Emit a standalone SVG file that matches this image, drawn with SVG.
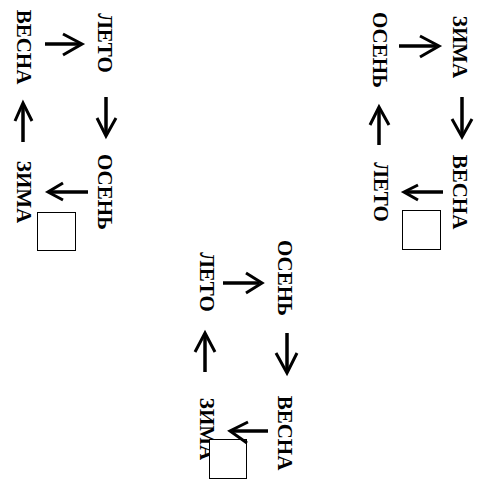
<svg xmlns="http://www.w3.org/2000/svg" width="480" height="497" viewBox="0 0 480 497">
<style>
text{font-family:"Liberation Serif","Times New Roman",serif;font-weight:bold;font-size:21px;fill:#000;text-anchor:middle}
.shaft{stroke:#000;stroke-width:3.5;fill:none}
.head{stroke:#000;stroke-width:3;fill:none;stroke-linejoin:miter}
.box{fill:#fff;stroke:#000;stroke-width:1;shape-rendering:crispEdges}
</style>
<rect width="480" height="497" fill="#fff"/>
<g id="cycle-right">
  <g id="r-zima"><text transform="translate(453,47) rotate(90)">ЗИМА</text></g>
  <g id="r-vesna"><text transform="translate(453,192) rotate(90)">ВЕСНА</text></g>
  <g id="r-leto"><text transform="translate(374,192) rotate(90)">ЛЕТО</text></g>
  <g id="r-osen"><text transform="translate(373,50) rotate(90)">ОСЕНЬ</text></g>
  <g id="r-box"><rect class="box" x="402.5" y="210.5" width="38" height="39"/></g>
</g>
<g id="cycle-left">
  <g id="l-leto"><text transform="translate(98,43) rotate(90)">ЛЕТО</text></g>
  <g id="l-osen"><text transform="translate(98,192) rotate(90)">ОСЕНЬ</text></g>
  <g id="l-zima"><text transform="translate(17,192) rotate(90)">ЗИМА</text></g>
  <g id="l-vesna"><text transform="translate(17,47) rotate(90)">ВЕСНА</text></g>
  <g id="l-box"><rect class="box" x="37.5" y="212.5" width="38" height="38"/></g>
</g>
<g id="cycle-bottom">
  <g id="b-osen"><text transform="translate(278,278) rotate(90)">ОСЕНЬ</text></g>
  <g id="b-vesna"><text transform="translate(278,433) rotate(90)">ВЕСНА</text></g>
  <g id="b-zima"><text transform="translate(200,429) rotate(90)">ЗИМА</text></g>
  <g id="b-leto"><text transform="translate(200,282) rotate(90)">ЛЕТО</text></g>
  <g id="b-box"><rect class="box" x="209.5" y="439.5" width="37" height="39"/></g>
</g>
<g id="connectors">
  <path class="shaft" d="M399,46H436"/><path class="head" d="M420,36L439,46L420,57"/>
  <path class="shaft" d="M462,97V134"/><path class="head" d="M452,119L462,137L472,119"/>
  <path class="shaft" d="M443,192H407"/><path class="head" d="M418,185L404,192L418,200"/>
  <path class="shaft" d="M379,145V110"/><path class="head" d="M370,125L379,107L389,125"/>
  <path class="shaft" d="M45,44H79"/><path class="head" d="M63,34L82,44L63,55"/>
  <path class="shaft" d="M106,97V133"/><path class="head" d="M97,118L106,136L116,118"/>
  <path class="shaft" d="M88,192H51"/><path class="head" d="M63,183L48,192L63,200"/>
  <path class="shaft" d="M23,142V106"/><path class="head" d="M15,121L23,103L32,121"/>
  <path class="shaft" d="M223,283H259"/><path class="head" d="M246,273L262,283L246,293"/>
  <path class="shaft" d="M287,333V370"/><path class="head" d="M276,353L287,373L297,353"/>
  <path class="shaft" d="M268,431H233"/><path class="head" d="M248,422L230,431L247,443"/>
  <path class="shaft" d="M205,372V336"/><path class="head" d="M195,352L205,333L215,352"/>
</g>
</svg>
